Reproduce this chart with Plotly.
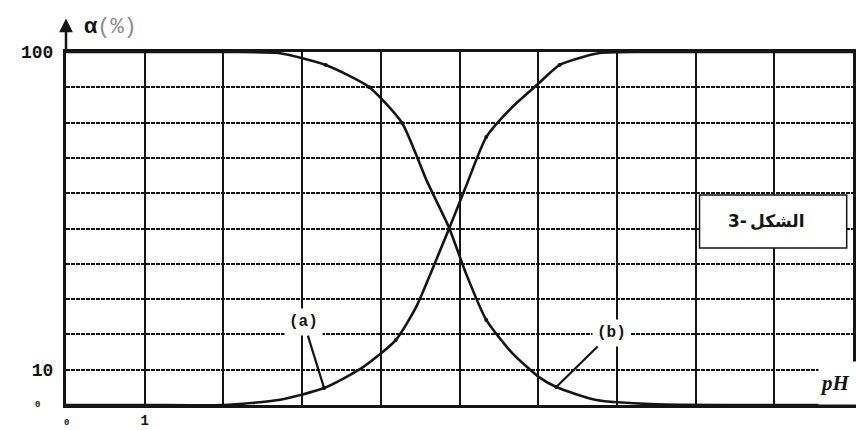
import plotly.graph_objects as go

# Curve (a): rising fraction vs pH
ph_a = [0.0, 1.0, 2.0, 2.70, 3.28, 3.76, 4.19, 4.45, 4.65, 4.87, 5.08, 5.34, 5.67, 6.01, 6.27, 6.78, 7.5, 8.5, 10.0]
alpha_a = [0.0, 0.0, 0.0, 1.4, 4.8, 10.5, 18.4, 27.8, 38.2, 50.1, 61.8, 75.9, 84.4, 91.2, 96.3, 99.7, 100.0, 100.0, 100.0]

# Curve (b): falling fraction vs pH
ph_b = [0.0, 1.0, 2.0, 2.70, 3.30, 3.85, 4.27, 4.58, 4.87, 5.08, 5.34, 5.67, 6.01, 6.23, 6.74, 7.5, 8.5, 10.0]
alpha_b = [100.0, 100.0, 100.0, 99.7, 96.3, 90.1, 79.9, 63.7, 50.1, 37.4, 24.1, 14.7, 7.9, 5.1, 1.4, 0.2, 0.0, 0.0]

# Measured points marked on the curves
pts_a_ph = [3.28, 4.19, 5.34, 6.27]
pts_a_val = [4.8, 18.4, 75.9, 96.3]
pts_b_ph = [3.30, 3.85, 4.27, 5.34, 6.23]
pts_b_val = [96.3, 90.1, 79.9, 24.1, 5.1]

x_ticks = list(range(0, 11))
x_ticktext = ["", "<b>1</b>", "", "", "", "", "", "", "", "", ""]
y_ticks = list(range(0, 101, 10))
y_ticktext = ["", "<b>10</b>", "", "", "", "", "", "", "", "", "<b>100</b>"]

INK = "#151515"

fig = go.Figure()
fig.add_trace(go.Scatter(x=ph_a, y=alpha_a, mode="lines",
                         line=dict(color=INK, width=2.6, shape="spline", smoothing=0.6),
                         hoverinfo="skip", showlegend=False))
fig.add_trace(go.Scatter(x=ph_b, y=alpha_b, mode="lines",
                         line=dict(color=INK, width=2.6, shape="spline", smoothing=0.6),
                         hoverinfo="skip", showlegend=False))
fig.add_trace(go.Scatter(x=pts_a_ph + pts_b_ph, y=pts_a_val + pts_b_val, mode="markers",
                         marker=dict(color=INK, size=4),
                         hoverinfo="skip", showlegend=False))

# Caption box
fig.add_shape(type="rect", xref="x", yref="y", x0=8.05, x1=9.92, y0=44.5, y1=59.5,
              fillcolor="white", line=dict(color=INK, width=1.5), layer="above")

annotations = [
    dict(x=8.68, y=52, xref="x", yref="y", xanchor="right", text="<b>3-</b>", showarrow=False,
         font=dict(family="DejaVu Sans", size=17, color=INK)),
    dict(x=8.66, y=52, xref="x", yref="y", xanchor="left", text="<b>الشكل</b>", showarrow=False,
         font=dict(family="DejaVu Sans", size=17, color=INK)),
    # curve labels with pointers
    dict(x=3.28, y=4.8, xref="x", yref="y", ax=3.02, ay=23.5, axref="x", ayref="y",
         text="<b>(a)</b>", showarrow=True, arrowhead=0, arrowwidth=2.2, arrowcolor=INK,
         bgcolor="white", borderpad=4,
         font=dict(family="Liberation Mono", size=16, color=INK)),
    dict(x=6.23, y=5.1, xref="x", yref="y", ax=6.93, ay=20.4, axref="x", ayref="y",
         text="<b>(b)</b>", showarrow=True, arrowhead=0, arrowwidth=2.2, arrowcolor=INK,
         bgcolor="white", borderpad=4,
         font=dict(family="Liberation Mono", size=16, color=INK)),
    # axis title for pH
    dict(x=9.55, y=6.2, xref="x", yref="y", xanchor="left", text="<b><i>pH</i></b>",
         showarrow=False, bgcolor="white", width=80, height=40, align="left",
         font=dict(family="Liberation Serif", size=21, color=INK)),
    # y-axis arrow and title
    dict(x=0, y=1.095, xref="x", yref="paper", ax=0, ay=36, text="", showarrow=True,
         arrowhead=2, arrowsize=1.1, arrowwidth=2.5, arrowcolor=INK),
    dict(x=0.2, y=1.07, xref="x", yref="paper", xanchor="left", yanchor="middle",
         text="<b>α</b><span style='color:#8a8a8a'>(%)</span>", showarrow=False,
         font=dict(family="Liberation Mono", size=22, color=INK)),
    # small zero labels
    dict(x=-0.03, y=0, xref="paper", yref="y", xanchor="right", text="<b>0</b>", showarrow=False,
         font=dict(family="Liberation Mono", size=9, color=INK)),
    dict(x=0, y=-0.03, xref="x", yref="paper", yanchor="top", text="<b>0</b>", showarrow=False,
         font=dict(family="Liberation Mono", size=9, color=INK)),
]

fig.update_layout(
    width=856, height=430,
    margin=dict(l=66, r=3, t=52, b=25, autoexpand=False),
    paper_bgcolor="white", plot_bgcolor="white",
    annotations=annotations,
    xaxis=dict(range=[0, 10], tickvals=x_ticks, ticktext=x_ticktext, ticks="",
               showgrid=True, gridcolor=INK, gridwidth=2.2, zeroline=False,
               showline=True, linecolor=INK, linewidth=3, mirror=True,
               ticklabelstandoff=0,
               tickfont=dict(family="Liberation Mono", size=14, color=INK),
               automargin=False, fixedrange=True),
    yaxis=dict(range=[0, 100], tickvals=y_ticks, ticktext=y_ticktext, ticks="",
               showgrid=True, gridcolor=INK, gridwidth=2.4, griddash="4px,1px",
               zeroline=False, showline=True, linecolor=INK, linewidth=3, mirror=True,
               ticklabelstandoff=6,
               tickfont=dict(family="Liberation Mono", size=18, color=INK),
               automargin=False, fixedrange=True),
)

fig.write_html("out.html")
